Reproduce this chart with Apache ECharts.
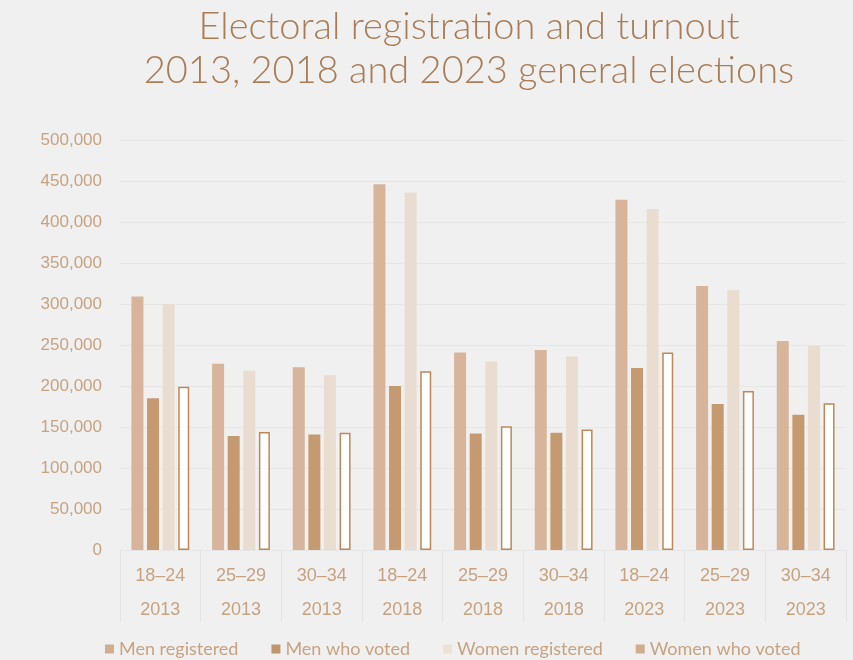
<!DOCTYPE html>
<html><head><meta charset="utf-8">
<script src="https://cdn.jsdelivr.net/npm/echarts@6/dist/echarts.min.js"></script>
<style>html,body{margin:0;padding:0;background:#f0f0f0;}#c{width:853px;height:660px;}</style>
</head><body><div id="c"></div>
<script>
const ageGroups = ['18–24','25–29','30–34','18–24','25–29','30–34','18–24','25–29','30–34'];
const years = ['2013','2013','2013','2018','2018','2018','2023','2023','2023'];
const seriesNames = ['Men registered','Men who voted','Women registered','Women who voted'];
const menRegistered = [309000,227000,223000,446000,241000,244000,427000,322000,255000];
const menVoted = [185000,139000,141000,200000,142000,143000,222000,178000,165000];
const womenRegistered = [300000,219000,213000,436000,230000,236000,416000,317000,249000];
const womenVoted = [199000,144000,143000,218000,151000,147000,241000,194000,179000];
const yTicks = {min:0,max:500000,interval:50000};

const categories = ageGroups.map((a,i)=>a+'\n'+years[i]);
const textColor = '#c7a280';
const chart = echarts.init(document.getElementById('c'));
const barBase = {type:'bar', barWidth:12, barGap:'30%'};
chart.setOption({
  backgroundColor:'#f0f0f0',
  animation:false,
  title:{
    text:'Electoral registration and turnout\n2013, 2018 and 2023 general elections',
    left:464, textAlign:'center', top:0,
    textStyle:{fontFamily:'Lato',fontWeight:300,fontSize:38,color:'#a97c55',lineHeight:44}
  },
  grid:{left:120,right:7,top:140,bottom:110},
  legend:{
    bottom:-3,left:100,itemWidth:9,itemHeight:9,itemGap:33,icon:'rect',
    textStyle:{fontFamily:'Lato',fontSize:18,color:textColor},
    data:[
      {name:'Men registered',itemStyle:{color:'#d2ae90'}},
      {name:'Men who voted',itemStyle:{color:'#c2966c'}},
      {name:'Women registered',itemStyle:{color:'#ebe1d6'}},
      {name:'Women who voted',itemStyle:{color:'#cfae90',borderWidth:0}}
    ]
  },
  xAxis:{
    type:'category',data:categories,
    axisLine:{show:false},
    axisTick:{show:true,length:72,lineStyle:{color:'#e4e4e4'}},
    axisLabel:{fontFamily:'Liberation Sans',fontSize:18,color:textColor,lineHeight:34,margin:9}
  },
  yAxis:{
    type:'value',min:yTicks.min,max:yTicks.max,interval:yTicks.interval,
    axisLine:{show:false},axisTick:{show:false},
    splitLine:{lineStyle:{color:'#e6e6e6',width:1}},
    axisLabel:{fontFamily:'Liberation Sans',fontSize:17,color:textColor,margin:18,
      formatter:v=>v.toLocaleString('en-US')}
  },
  series:[
    Object.assign({},barBase,{name:seriesNames[0],data:menRegistered,itemStyle:{color:'#d6b59a'}}),
    Object.assign({},barBase,{name:seriesNames[1],data:menVoted,itemStyle:{color:'#c59a70'}}),
    Object.assign({},barBase,{name:seriesNames[2],data:womenRegistered,itemStyle:{color:'#e9ddd1'}}),
    Object.assign({},barBase,{name:seriesNames[3],data:womenVoted,barWidth:11,itemStyle:{color:'#ffffff',borderColor:'#bf8858',borderWidth:1.5}})
  ]
});
</script></body></html>
